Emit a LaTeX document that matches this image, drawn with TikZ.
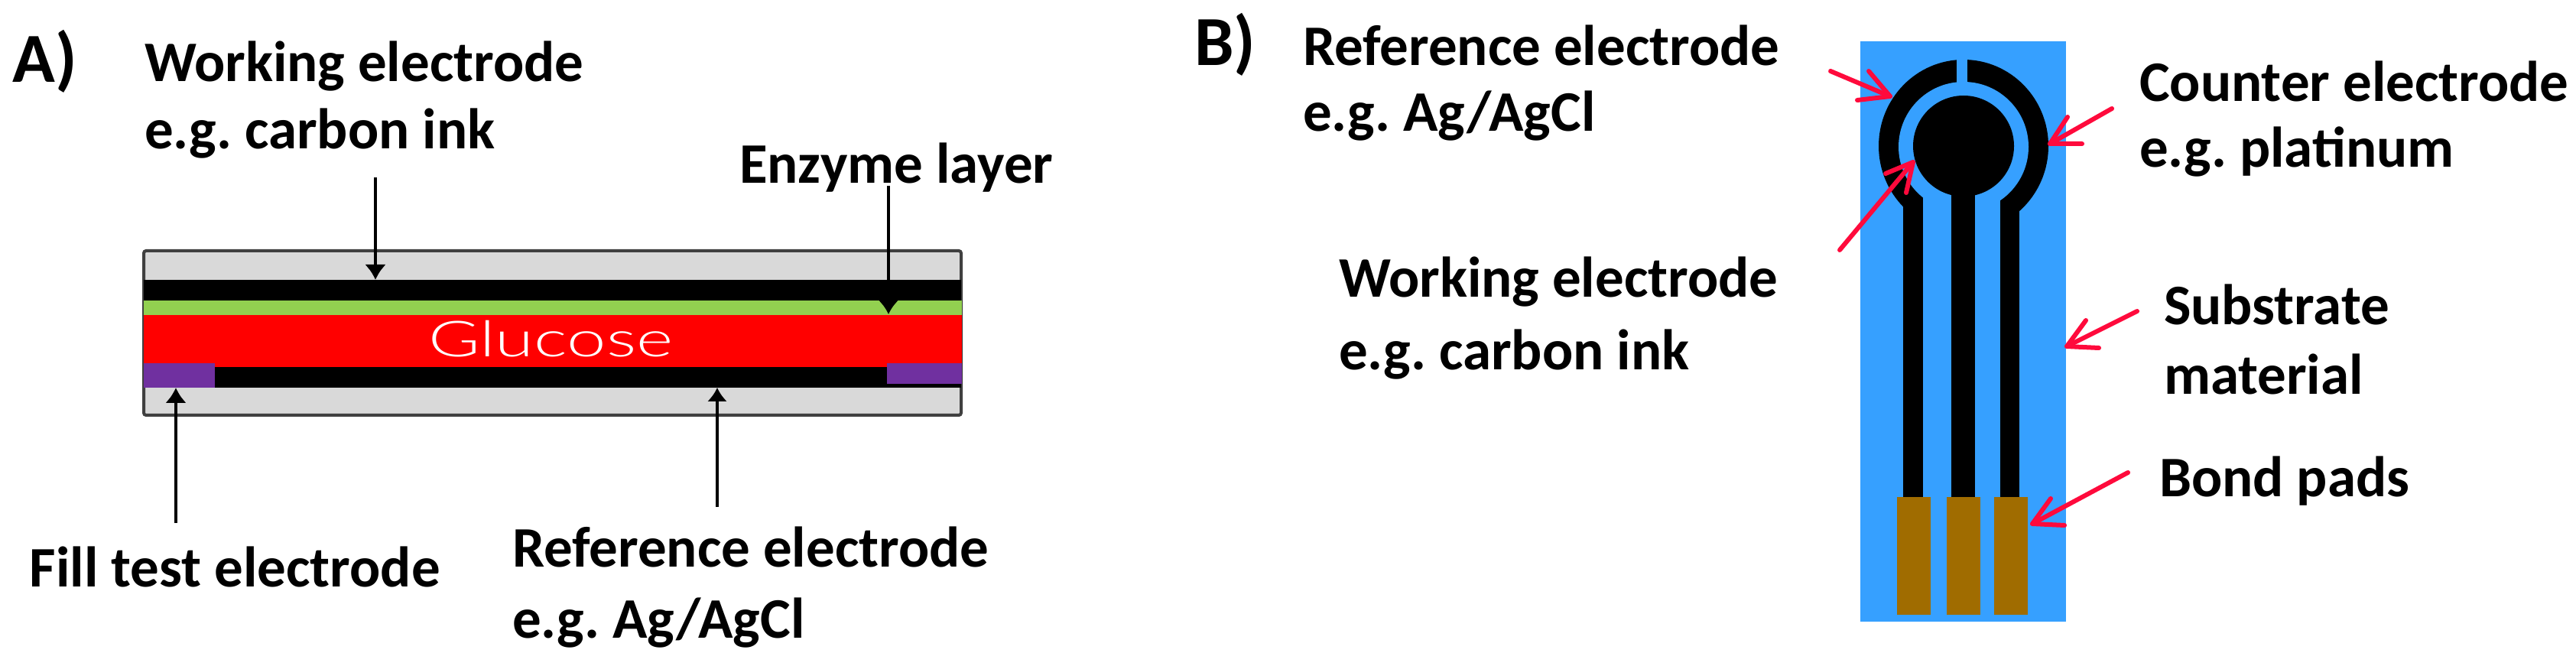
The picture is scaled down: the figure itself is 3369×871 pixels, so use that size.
\documentclass[tikz,border=0pt]{standalone}
\usepackage{fontspec}
\setmainfont{Carlito}
\newfontfamily\glufont{Lato Light}
\usetikzlibrary{arrows.meta}
\frenchspacing
\definecolor{glass}{HTML}{D9D9D9}
\definecolor{edgegray}{HTML}{404040}
\definecolor{enzgreen}{HTML}{92D050}
\definecolor{fillpurple}{HTML}{7030A0}
\definecolor{subblue}{HTML}{36A0FF}
\definecolor{padbrown}{HTML}{A06C00}
\definecolor{markred}{HTML}{FF0A3C}
\tikzset{
  x=0.5pt,y=-0.5pt,
  lbl/.style={anchor=base west,inner sep=0pt,outer sep=0pt,font=\bfseries\fontsize{37.5}{42}\selectfont,text=black},
  head/.style={anchor=base west,inner sep=0pt,outer sep=0pt,font=\bfseries\fontsize{46}{50}\selectfont},
  blackarrow/.style={draw=black,line width=2pt,-{Latex[length=10pt,width=14pt]}},
  thinarrow/.style={draw=black,line width=1.6pt,-{Latex[length=9pt,width=13pt]}},
  redline/.style={draw=markred,line width=3pt,line cap=round,line join=round},
}
\begin{document}
\begin{tikzpicture}
\useasboundingbox (0,0) rectangle (3369,871);
\fill[white] (0,0) rectangle (3369,871);
% Panel A
\fill[glass] (188,328) rectangle (1257,543);
\draw[edgegray,line width=2pt,rounded corners=1.5pt] (188,328) rectangle (1257,543);
\fill[black] (188,366) rectangle (1257,393);
\fill[enzgreen] (188,393) rectangle (1258,412);
\fill[red] (188,412) rectangle (1258,480);
\fill[black] (188,480) rectangle (1257,507);
\fill[fillpurple] (188,475) rectangle (281,507);
\fill[fillpurple] (1160,475) rectangle (1258,502);
\node[anchor=base west,inner sep=0pt,text=white,font=\glufont\fontsize{32.5}{36}\selectfont] (glu) at (560,467) {\scalebox{1.42}[1]{Glucose}};
\node[head] (lA) at (17,108) {A)};
\node[lbl] (we) at (189,107) {Working electrode};
\node[lbl] (wei) at (189,195) {e.g. carbon ink};
\node[lbl] (enz) at (967,240) {Enzyme layer};
\node[lbl] (fill) at (39,767) {Fill test electrode};
\node[lbl] (ref) at (670,741) {Reference electrode};
\node[lbl] (refi) at (670,834) {e.g. Ag/AgCl};
\coordinate (weT) at (491,232); \coordinate (weH) at (491,366);
\coordinate (enT) at (1162,243); \coordinate (enH) at (1162,411);
\coordinate (fiT) at (230,684); \coordinate (fiH) at (230,507);
\coordinate (reT) at (938,663); \coordinate (reH) at (938,507);
\draw[blackarrow] (weT) -- (weH);
\draw[thinarrow] (enT) -- (enH);
\draw[blackarrow] (fiT) -- (fiH);
\draw[thinarrow] (reT) -- (reH);
% Panel B
\fill[subblue] (2433,54) rectangle (2702,813);
\fill[black] (2568,191) ellipse (55.5pt and 56.5pt);
\fill[subblue] (2568,192) circle (42.5pt);
\fill[subblue] (2559,70) rectangle (2573,115);
\fill[subblue] (2515,240) rectangle (2616,320);
\fill[black] (2568,191) circle (33pt);
\fill[black] (2489,270) rectangle (2515,650);
\fill[black] (2552,240) rectangle (2583,650);
\fill[black] (2616,262) rectangle (2641,650);
\fill[padbrown] (2481,650) rectangle (2525,804);
\fill[padbrown] (2546,650) rectangle (2590,804);
\fill[padbrown] (2608,650) rectangle (2652,804);
\node[head] (lB) at (1562,86) {B)};
\node[lbl] (r2) at (1704,86) {Reference electrode};
\node[lbl] (r2i) at (1704,172) {e.g. Ag/AgCl};
\node[lbl] (w2) at (1751,389) {Working electrode};
\node[lbl] (w2i) at (1751,484) {e.g. carbon ink};
\node[lbl] (c2) at (2798,133) {Counter electrode};
\node[lbl] (c2i) at (2798,219) {e.g. platinum};
\node[lbl] (s2) at (2830,425) {Substrate};
\node[lbl] (s2i) at (2830,516) {material};
\node[lbl] (b2) at (2824,649) {Bond pads};
% red hand-drawn arrows
\coordinate (a1T) at (2394,93); \coordinate (a1H) at (2472,126);
\coordinate (a1a) at (2444,93); \coordinate (a1b) at (2429,131);
\draw[redline] (a1T) -- (a1H); \draw[redline] (a1a) -- (a1H) -- (a1b);
\coordinate (a2T) at (2762,142); \coordinate (a2H) at (2681,188);
\coordinate (a2a) at (2704,153); \coordinate (a2b) at (2723,188);
\draw[redline] (a2T) -- (a2H); \draw[redline] (a2a) -- (a2H) -- (a2b);
\coordinate (a3T) at (2406,327); \coordinate (a3H) at (2502,212);
\coordinate (a3a) at (2466,227); \coordinate (a3b) at (2493,252);
\draw[redline] (a3T) -- (a3H); \draw[redline] (a3a) -- (a3H) -- (a3b);
\coordinate (a4T) at (2795,407); \coordinate (a4H) at (2703,453);
\coordinate (a4a) at (2728,419); \coordinate (a4b) at (2745,455);
\draw[redline] (a4T) -- (a4H); \draw[redline] (a4a) -- (a4H) -- (a4b);
\coordinate (a5T) at (2783,618); \coordinate (a5H) at (2658,685);
\coordinate (a5a) at (2682,652); \coordinate (a5b) at (2700,687);
\draw[redline] (a5T) -- (a5H); \draw[redline] (a5a) -- (a5H) -- (a5b);
\end{tikzpicture}
\end{document}
